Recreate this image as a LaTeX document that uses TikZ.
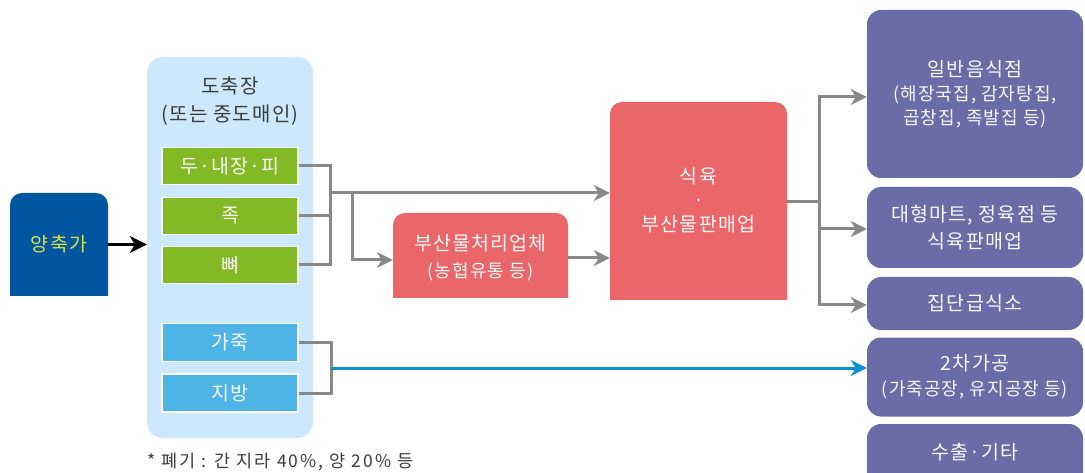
\documentclass[tikz,border=0pt]{standalone}
\usepackage{fontspec}
\setmainfont{Noto Sans CJK KR}[LetterSpace=6]
\newfontfamily\notefont{Noto Sans CJK KR}[LetterSpace=12]
\usetikzlibrary{arrows.meta}
\definecolor{farmblue}{RGB}{0,85,160}
\definecolor{farmtext}{RGB}{215,225,70}
\definecolor{pale}{RGB}{205,232,250}
\definecolor{leaf}{RGB}{132,185,38}
\definecolor{sky}{RGB}{77,180,230}
\definecolor{coral}{RGB}{235,102,105}
\definecolor{violet}{RGB}{106,108,167}
\definecolor{linegray}{RGB}{136,136,136}
\definecolor{lineblue}{RGB}{10,143,215}
\definecolor{darktext}{RGB}{60,60,60}
\definecolor{softwhite}{RGB}{248,248,248}
\newcommand\subf{\fontsize{18}{22}\selectfont}
\newcommand\topfill[5]{\begin{scope}\clip (#2,#3) rectangle (#4,#5);\fill[#1, rounded corners=12pt] (#2,#3) rectangle (#4,#5+40);\end{scope}}
\begin{document}
\begin{tikzpicture}[x=1pt,y=-1pt,
  lbl/.style={font=\fontsize{19.5}{24}\selectfont, text=softwhite, align=center, inner sep=0pt},
  partbox/.style={lbl, draw=white, line width=1.5pt, minimum width=136pt, minimum height=37pt},
  outbox/.style={lbl, fill=violet, rounded corners=14pt, minimum width=216pt},
  shapebox/.style={lbl, minimum width=#1},
  gline/.style={draw=linegray, line width=3pt},
  garrow/.style={gline, -{Stealth[length=16pt,width=16pt,inset=5pt]}},
  barrow/.style={draw=lineblue, line width=3pt, -{Stealth[length=16pt,width=16pt,inset=5pt]}},
  karrow/.style={draw=black, line width=3.5pt, -{Stealth[length=17pt,width=17pt,inset=5pt]}}
]
\fill[white] (0,0) rectangle (1085,473);
\useasboundingbox (0,0) rectangle (1085,473);

% slaughterhouse container
\node[fill=pale, rounded corners=16pt, minimum width=166pt, minimum height=381pt, inner sep=0pt] (yard) at (230,247.5) {};
\node[lbl, text=darktext, font=\fontsize{20}{28}\selectfont] (ytitle) at (230,101) {도축장\\(또는 중도매인)};

% farm
\topfill{farmblue}{10}{193}{108}{296}
\node[shapebox=98pt, minimum height=103pt, text=farmtext] (farm) at (59,244.5) {양축가};

% parts
\node[partbox, fill=leaf] (g1) at (230,166) {두·내장·피};
\node[partbox, fill=leaf] (g2) at (230,216) {족};
\node[partbox, fill=leaf] (g3) at (230,265) {뼈};
\node[partbox, fill=sky, minimum height=38pt] (b1) at (230,342.5) {가죽};
\node[partbox, fill=sky, minimum height=38pt] (b2) at (230,393) {지방};

% by-product processor
\topfill{coral}{393}{213}{568}{298}
\node[shapebox=175pt, minimum height=85pt, font=\fontsize{19.5}{27}\selectfont] (bp) at (480.5,258) {부산물처리업체\\{\subf (농협유통 등)}};

% meat shop
\topfill{coral}{610}{102}{787}{300}
\node[shapebox=177pt, minimum height=198pt] (s) at (698.5,200) {식육\\·\\부산물판매업};

% outlets
\node[outbox, minimum height=168pt] (p1) at (975,94) {일반음식점\\{\subf (해장국집, 감자탕집,}\\{\subf 곱창집, 족발집 등)}};
\node[outbox, minimum height=81pt, font=\fontsize{19.5}{27}\selectfont] (p2) at (975,227.5) {대형마트, 정육점 등\\식육판매업};
\node[outbox, minimum height=53pt] (p3) at (975,303.5) {집단급식소};
\node[outbox, minimum height=79pt, font=\fontsize{19.5}{25}\selectfont] (p4) at (975,377) {2차가공\\{\subf (가죽공장, 유지공장 등)}};
\begin{scope}\clip (0,0) rectangle (1085,473);\fill[violet, rounded corners=14pt] (867,424) rectangle (1083,520);\end{scope}
\node[shapebox=216pt, minimum height=40pt] (p5) at (975,452) {수출·기타};

% note
\node[anchor=west, inner sep=0pt, text=darktext, font=\notefont\fontsize{17.5}{20}\selectfont] (note) at (147,462) {* 폐기 : 간 지라 40\%, 양 20\% 등};

% connectors
\coordinate (k) at (330,193);
\coordinate (k2) at (352,193);
\coordinate (j) at (819,202);
\coordinate (m) at (331,368);

\draw[karrow] (farm.east) -- (yard.west |- farm.east);

\draw[gline] (g1.east) -| (k);
\draw[gline] (g2.east) -| (k);
\draw[gline] (g3.east) -| (k);
\draw[garrow] (k) -- (s.west |- k);
\draw[garrow] (k2) |- ([yshift=-2pt]bp.west);
\draw[garrow] (bp.east) -- (s.west |- bp.east);

\draw[gline] (s.east |- j) -- (j);
\draw[garrow] (j) |- ([yshift=-3pt]p1.west);
\draw[garrow] (j) |- ([yshift=-1.5pt]p2.west);
\draw[garrow] (j) |- ([yshift=-1.5pt]p3.west);

\draw[gline] (b1.east) -| (m);
\draw[gline] (b2.east) -| (m);
\draw[barrow] (m) -- (p4.west |- m);
\end{tikzpicture}
\end{document}
